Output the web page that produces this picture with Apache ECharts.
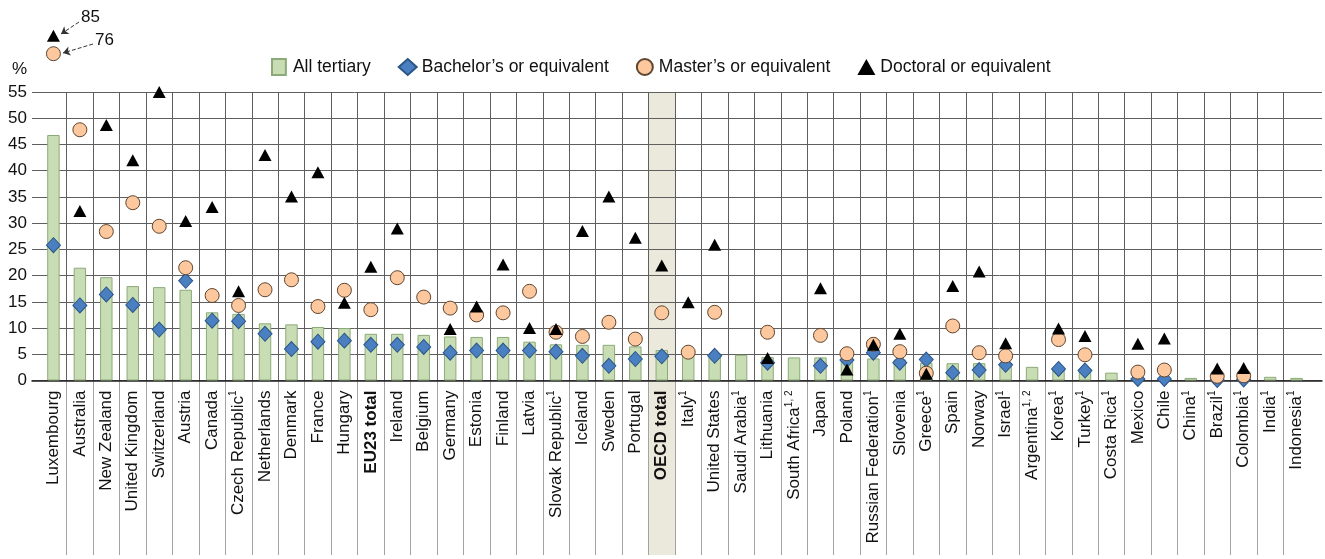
<!DOCTYPE html>
<html>
<head>
<meta charset="utf-8">
<script src="https://cdn.jsdelivr.net/npm/echarts@6/dist/echarts.min.js"></script>
<style>
  html, body { margin: 0; padding: 0; background: #fff; }
  #chart { width: 1325px; height: 559px; }
</style>
</head>
<body>
<div id="chart"></div>
<script>
const countries = [
  'Luxembourg', 'Australia', 'New Zealand', 'United Kingdom', 'Switzerland', 'Austria',
  'Canada', 'Czech Republic', 'Netherlands', 'Denmark', 'France', 'Hungary', 'EU23 total',
  'Ireland', 'Belgium', 'Germany', 'Estonia', 'Finland', 'Latvia', 'Slovak Republic',
  'Iceland', 'Sweden', 'Portugal', 'OECD total', 'Italy', 'United States', 'Saudi Arabia',
  'Lithuania', 'South Africa', 'Japan', 'Poland', 'Russian Federation', 'Slovenia', 'Greece',
  'Spain', 'Norway', 'Israel', 'Argentina', 'Korea', 'Turkey', 'Costa Rica', 'Mexico',
  'Chile', 'China', 'Brazil', 'Colombia', 'India', 'Indonesia'
];
// superscript notes after the name
const footnotes = [
  '', '', '', '', '', '', '', '1', '', '', '', '', '', '', '', '', '', '', '', '1',
  '', '', '', '', '1', '', '1', '', '1, 2', '', '', '1', '', '1', '', '', '1', '1, 2', '1', '1',
  '1', '', '', '1', '1', '1', '1', '1'
];
const totals = ['EU23 total', 'OECD total'];
const highlighted = 'OECD total';

const allTertiary = [
  46.8, 21.5, 19.7, 18.0, 17.8, 17.3, 13.0, 12.7, 10.9, 10.7, 10.2, 10.0, 8.9, 8.9, 8.7, 8.4,
  8.3, 8.3, 7.4, 6.9, 6.8, 6.8, 6.5, 5.8, 5.2, 5.1, 4.9, 4.5, 4.4, 4.4, 4.3, 4.2, 4.0, 3.4,
  3.3, 3.3, 3.2, 2.6, 2.5, 2.2, 1.5, 0.5, 0.5, 0.5, 0.4, 0.4, 0.7, 0.5
];
const bachelor = [
  25.8, 14.3, 16.4, 14.4, 9.7, 19.0, 11.4, 11.3, 8.9, 6.0, 7.4, 7.6, 6.8, 6.8, 6.4, 5.3,
  5.7, 5.7, 5.7, 5.5, 4.7, 2.8, 4.1, 4.6, null, 4.7, null, 3.4, null, 2.8, 3.9, 5.3, 3.4, 4.0,
  1.5, 2.0, 3.0, null, 2.2, 1.9, null, 0.3, 0.3, null, 0.1, 0.2, null, null
];
const master = [
  76, 47.8, 28.4, 33.9, 29.4, 21.5, 16.2, 14.3, 17.3, 19.2, 14.1, 17.2, 13.5, 19.6, 15.9, 13.8,
  12.5, 12.9, 17.0, 9.2, 8.4, 11.1, 7.9, 12.9, 5.4, 13.0, null, 9.2, null, 8.6, 5.1, 6.9, 5.5, 1.4,
  10.4, 5.3, 4.7, null, 7.8, 4.9, null, 1.6, 2.0, null, 0.8, 0.9, null, null
];
const doctoral = [
  85, 32.3, 48.7, 42.0, 55.0, 30.4, 33.1, 17.0, 43.0, 35.1, 39.7, 14.8, 21.7, 29.0, null, 9.8,
  14.1, 22.1, 10.0, 9.8, 28.5, 35.1, 27.2, 21.9, 14.9, 25.9, null, 4.3, null, 17.6, 2.1, 6.8, 8.9, 1.3,
  18.0, 20.8, 7.1, null, 9.9, 8.5, null, 7.0, 8.0, null, 2.3, 2.4, null, null
];
const yTicks = [0, 5, 10, 15, 20, 25, 30, 35, 40, 45, 50, 55];

const FONT = '"Liberation Sans", Arial, sans-serif';
const Y_MAX = yTicks[yTicks.length - 1];

// grid geometry: A = horizontal lines, B = data, C = label strip under the axis
const PLOT_TOP = 92;
const PLOT_BOTTOM = 178.5;
const DATA_LEFT = 40.2;
const DATA_RIGHT = 15.2;

const labelText = (name, i) => {
  const style = totals.includes(name) ? 'b' : 'n';
  return `{${style}|${name}}` + (footnotes[i] ? `{s|${footnotes[i]}}` : '');
};

// values beyond the axis are drawn just above the plot, with their value written beside
const overflowSlot = { doctoral: 65.7, master: 62.3 };
const overflowLabel = { doctoral: [16, -19], master: [29, -13] };

const withOverflow = (values, key) =>
  values.map((v) => {
    if (v == null || v <= Y_MAX) return v;
    return {
      value: overflowSlot[key],
      label: {
        show: true,
        position: 'right',
        offset: overflowLabel[key],
        formatter: String(v),
        fontFamily: FONT,
        fontSize: 17,
        color: '#111',
      },
    };
  });

const bandColors = countries.map((c) => (c === highlighted ? '#ebe9dc' : 'rgba(0,0,0,0)'));

const chart = echarts.init(document.getElementById('chart'), null, { renderer: 'canvas' });

const option = {
  animation: false,
  backgroundColor: '#fff',
  title: {
    text: '%',
    left: 7,
    top: 56,
    textStyle: { fontFamily: FONT, fontSize: 17, fontWeight: 'normal', color: '#111' },
  },
  legend: {
    left: 266,
    top: 53,
    itemWidth: 18,
    itemHeight: 16,
    itemGap: 27,
    textStyle: { fontFamily: FONT, fontSize: 17.5, color: '#111' },
    data: [
      { name: 'All tertiary', icon: 'path://M0,0H13V15H0Z' },
      { name: 'Bachelor’s or equivalent', icon: 'diamond' },
      { name: 'Master’s or equivalent', icon: 'circle' },
      { name: 'Doctoral or equivalent', icon: 'triangle' },
    ],
  },
  grid: [
    { left: 32, right: 3, top: PLOT_TOP, bottom: PLOT_BOTTOM },
    { left: DATA_LEFT, right: DATA_RIGHT, top: PLOT_TOP, bottom: PLOT_BOTTOM },
    { left: DATA_LEFT, right: DATA_RIGHT, top: 559 - PLOT_BOTTOM, bottom: 4 },
  ],
  xAxis: [
    {
      gridIndex: 0,
      type: 'value',
      min: 0,
      max: 1,
      z: 1,
      axisLine: { show: true, lineStyle: { color: '#222', width: 1.5 } },
      axisTick: { show: false },
      axisLabel: { show: false },
      splitLine: { show: false },
    },
    {
      gridIndex: 1,
      type: 'category',
      data: countries,
      z: 0.5,
      axisLine: { show: false },
      axisTick: { show: false },
      splitArea: { show: true, interval: 0, areaStyle: { color: bandColors } },
      splitLine: {
        show: true,
        interval: 0,
        showMinLine: false,
        showMaxLine: false,
        lineStyle: { color: '#5f5f5f', width: 1 },
      },
      axisLabel: {
        interval: 0,
        rotate: 90,
        margin: 10,
        color: '#111',
        formatter: labelText,
        rich: {
          n: { fontFamily: FONT, fontSize: 17, lineHeight: 20, color: '#111' },
          b: { fontFamily: FONT, fontSize: 17, lineHeight: 20, fontWeight: 'bold', color: '#111' },
          s: { fontFamily: FONT, fontSize: 10, lineHeight: 10, verticalAlign: 'top', color: '#111' },
        },
      },
    },
    {
      gridIndex: 2,
      type: 'category',
      data: countries,
      z: 0,
      axisLine: { show: false },
      axisTick: { show: false },
      axisLabel: { show: false, interval: 0 },
      splitArea: { show: true, interval: 0, areaStyle: { color: bandColors } },
      splitLine: {
        show: true,
        interval: 0,
        showMinLine: false,
        showMaxLine: false,
        lineStyle: { color: '#a3a3a3', width: 1 },
      },
    },
  ],
  yAxis: [
    {
      gridIndex: 0,
      type: 'value',
      min: 0,
      max: Y_MAX,
      interval: 5,
      z: 1,
      axisLine: { show: false },
      axisTick: { show: false },
      axisLabel: {
        margin: 5,
        fontFamily: FONT,
        fontSize: 17,
        color: '#111',
        formatter: (v) => (yTicks.includes(v) ? String(v) : ''),
      },
      splitLine: { show: true, lineStyle: { color: '#5f5f5f', width: 1 } },
    },
    { gridIndex: 1, type: 'value', min: 0, max: Y_MAX, show: false },
    { gridIndex: 2, type: 'value', min: 0, max: 1, show: false },
  ],
  series: [
    {
      name: 'All tertiary',
      type: 'bar',
      xAxisIndex: 1,
      yAxisIndex: 1,
      barWidth: '47%',
      itemStyle: { color: '#c9ddb5', borderColor: '#8caa79', borderWidth: 1 },
      data: allTertiary,
    },
    {
      name: 'Bachelor’s or equivalent',
      type: 'scatter',
      xAxisIndex: 1,
      yAxisIndex: 1,
      symbol: 'diamond',
      symbolSize: [14, 15],
      clip: false,
      itemStyle: { color: '#4a7fc1', borderColor: '#2c5687', borderWidth: 1, opacity: 1 },
      data: bachelor,
    },
    {
      name: 'Master’s or equivalent',
      type: 'scatter',
      xAxisIndex: 1,
      yAxisIndex: 1,
      symbol: 'circle',
      symbolSize: 14,
      clip: false,
      itemStyle: { color: '#fdc89d', borderColor: '#5e4530', borderWidth: 1, opacity: 1 },
      data: withOverflow(master, 'master'),
      markLine: {
        silent: true,
        symbol: ['none', 'arrow'],
        symbolSize: 7,
        label: { show: false },
        lineStyle: { type: 'dashed', color: '#333', width: 1 },
        data: [[{ x: 93, y: 44 }, { x: 63, y: 53 }]],
      },
    },
    {
      name: 'Doctoral or equivalent',
      type: 'scatter',
      xAxisIndex: 1,
      yAxisIndex: 1,
      symbol: 'triangle',
      symbolSize: [13, 12],
      clip: false,
      itemStyle: { color: '#000', opacity: 1 },
      data: withOverflow(doctoral, 'doctoral'),
      markLine: {
        silent: true,
        symbol: ['none', 'arrow'],
        symbolSize: 7,
        label: { show: false },
        lineStyle: { type: 'dashed', color: '#333', width: 1 },
        data: [[{ x: 79, y: 22 }, { x: 61, y: 34 }]],
      },
    },
  ],
};

chart.setOption(option);
</script>
</body>
</html>
